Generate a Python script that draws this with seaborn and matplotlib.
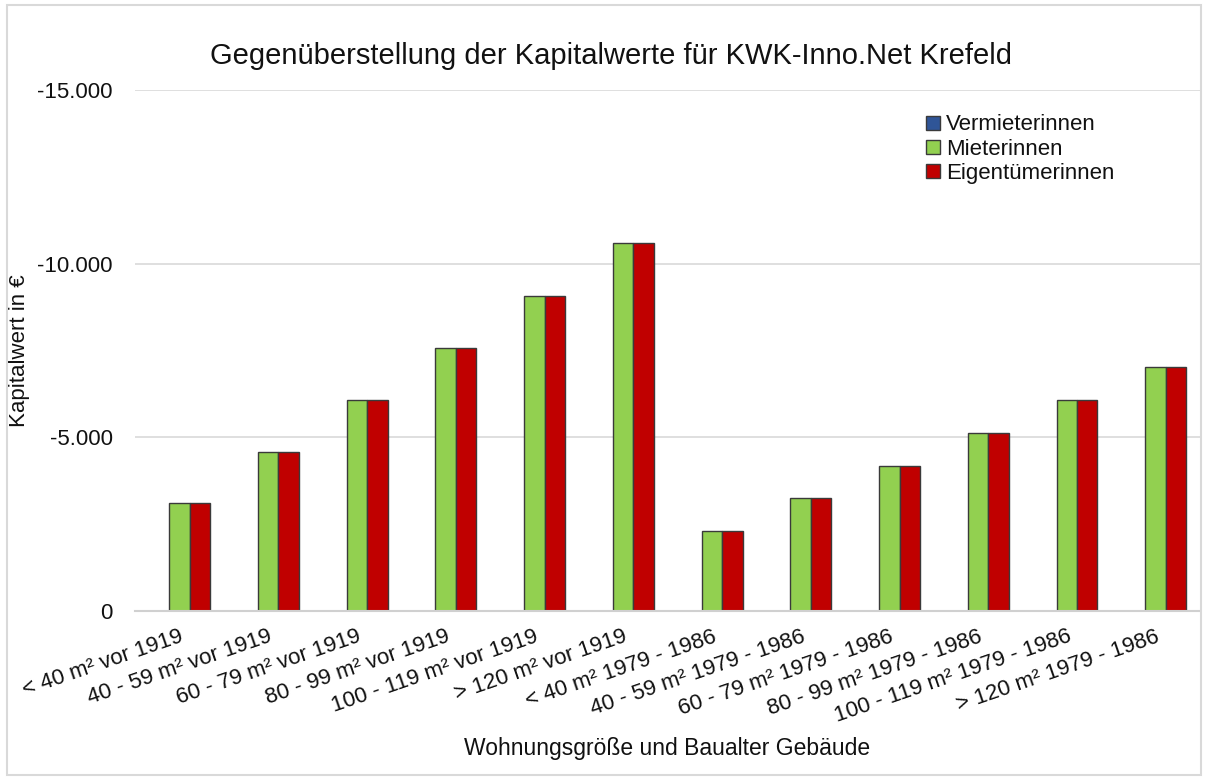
import matplotlib
matplotlib.use('Agg')
import matplotlib.pyplot as plt
from matplotlib.ticker import FuncFormatter
from matplotlib.patches import Rectangle
import seaborn as sns
import pandas as pd

# --- DATA ---
kategorien = [
    "< 40 m² vor 1919", "40 - 59 m² vor 1919", "60 - 79 m² vor 1919",
    "80 - 99 m² vor 1919", "100 - 119 m² vor 1919", "> 120 m² vor 1919",
    "< 40 m² 1979 - 1986", "40 - 59 m² 1979 - 1986", "60 - 79 m² 1979 - 1986",
    "80 - 99 m² 1979 - 1986", "100 - 119 m² 1979 - 1986", "> 120 m² 1979 - 1986",
]
vermieterinnen = [0, 0, 0, 0, 0, 0, 0, 0, 0, 0, 0, 0]
mieterinnen = [-3110, -4580, -6070, -7570, -9070, -10590,
               -2300, -3250, -4170, -5120, -6070, -7020]
eigentuemerinnen = [-3110, -4580, -6070, -7570, -9070, -10590,
                    -2300, -3250, -4170, -5120, -6070, -7020]
gruppen = ["Vermieterinnen", "Mieterinnen", "Eigentümerinnen"]
farben = ["#2F5597", "#92D050", "#C00000"]

rows = []
for g, werte in zip(gruppen, [vermieterinnen, mieterinnen, eigentuemerinnen]):
    for k, w in zip(kategorien, werte):
        rows.append({"Kategorie": k, "Wert": w, "Gruppe": g})
df = pd.DataFrame(rows)

sns.set_theme(style="white", rc={"text.color": "#111111", "axes.labelcolor": "#111111",
                                 "xtick.color": "#111111", "ytick.color": "#111111"})
plt.rcParams['font.family'] = ['Liberation Sans', 'DejaVu Sans']

fig = plt.figure(figsize=(12.06, 7.78), dpi=100)
ax = fig.add_axes([0.112, 0.2147, 0.883, 0.6696])

sns.barplot(data=df, x="Kategorie", y="Wert", hue="Gruppe",
            order=kategorien, hue_order=gruppen, palette=farben,
            saturation=1, width=0.69, edgecolor="#3a3a3a", linewidth=1.0,
            errorbar=None, ax=ax)

ax.set_ylim(0, -15000)
ax.set_yticks([0, -5000, -10000, -15000])
ax.yaxis.set_major_formatter(FuncFormatter(lambda v, p: f"{v:,.0f}".replace(",", ".")))
ax.set_xlim(-0.5, len(kategorien) - 0.5)
ax.grid(axis='y', color="#d9d9d9", linewidth=1.2)
ax.set_axisbelow(True)
for s in ["left", "right", "top"]:
    ax.spines[s].set_visible(False)
ax.spines["bottom"].set_color("#d0d0d0")
ax.spines["bottom"].set_linewidth(1.5)
ax.tick_params(axis='both', length=0, labelsize=16)
ax.tick_params(axis='y', pad=16)
ax.tick_params(axis='x', pad=11)
plt.setp(ax.get_xticklabels(), rotation=19, ha='right', rotation_mode='anchor')

ax.set_xlabel("Wohnungsgröße und Baualter Gebäude", fontsize=16.5)
ax.xaxis.set_label_coords(0.5, -0.242)
ax.set_ylabel("Kapitalwert in €", fontsize=16)
ax.yaxis.set_label_coords(-0.099, 0.5)
fig.text(0.507, 1 - 56 / 778, "Gegenüberstellung der Kapitalwerte für KWK-Inno.Net Krefeld",
         fontsize=21, ha="center", va="center")

handles, labels = ax.get_legend_handles_labels()
ax.legend(handles, labels, loc="upper right", bbox_to_anchor=(0.92, 0.953),
          frameon=False, fontsize=16, handlelength=0.6, handleheight=0.6,
          handletextpad=0.3, labelspacing=0.15, borderpad=0, borderaxespad=0)

fig.patches.append(Rectangle((0.006, 0.004), 0.99, 0.99, transform=fig.transFigure,
                             fill=False, edgecolor="#d9d9d9", linewidth=1.5))

fig.savefig("out.png", dpi=100, facecolor="white")
